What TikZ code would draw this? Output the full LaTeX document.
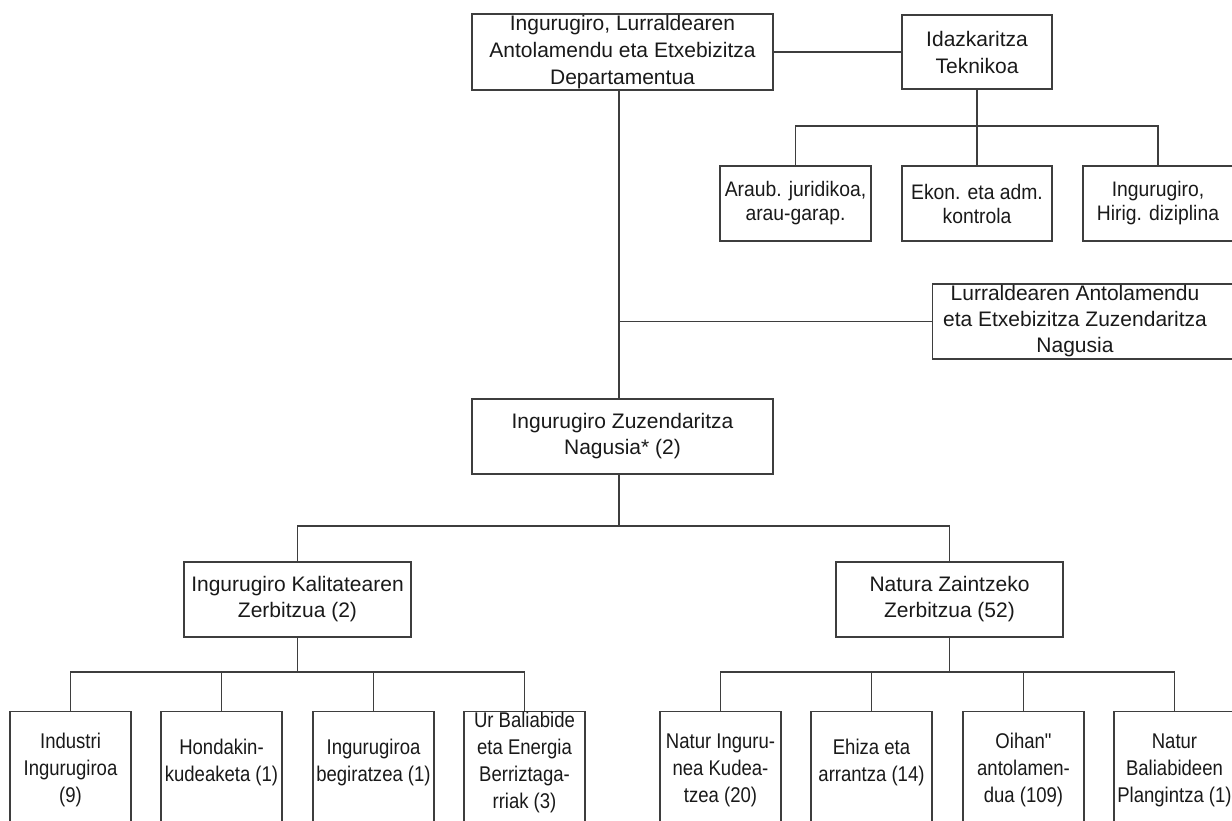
\documentclass[tikz,border=0pt]{standalone}
\usepackage{fontspec}
\setmainfont{Liberation Sans}
\newfontfamily\midfont[FakeStretch=0.92]{Liberation Sans}
\newfontfamily\smlfont[FakeStretch=0.87]{Liberation Sans}
\definecolor{lc}{RGB}{62,62,62}
\definecolor{tc}{RGB}{25,25,25}
\begin{document}
\begin{tikzpicture}[x=1pt,y=-1pt,
  box/.style={draw=lc, line width=1.2pt, inner sep=0pt, align=center, text=tc},
  big/.style={font=\fontsize{21}{27}\selectfont},
  bigb/.style={font=\fontsize{21}{26}\selectfont},
  mid/.style={font=\midfont\fontsize{21}{24}\selectfont},
  sml/.style={font=\smlfont\fontsize{21.3}{27}\selectfont},
  txt/.style={inner sep=0pt, align=center, text=tc},
  conn/.style={draw=lc, line width=1.2pt},
  bbox/.style={box, minimum width=121, minimum height=130, anchor=north}]
\useasboundingbox (0,0) rectangle (1232,821);
\clip (0,0) rectangle (1232,821);

% top level
\node[box,big,minimum width=301,minimum height=76] (top) at (622.5,52) {Ingurugiro, Lurraldearen\\Antolamendu eta Etxebizitza\\Departamentua};
\node[box,big,minimum width=150,minimum height=74] (idaz) at (977,52) {Idazkaritza\\Teknikoa};

% second row right
\node[box,mid,minimum width=151,minimum height=75] (araub) at (795.5,203.5) {Araub. juridikoa,\\arau-garap.};
\node[box,mid,minimum width=150,minimum height=75] (ekon) at (977,203.5) {Ekon. eta adm.\\kontrola};
\node[box,mid,minimum width=150,minimum height=75] (ingh) at (1158,203.5) {Ingurugiro,\\Hirig. diziplina};

% Lurraldearen
\node[box,minimum width=310,minimum height=75,anchor=west] (lur) at (932,321.5) {};
\node[txt,bigb] (lurt) at (1075,321.5) {Lurraldearen Antolamendu\\eta Etxebizitza Zuzendaritza\\Nagusia};

% middle
\node[box,bigb,minimum width=301,minimum height=75] (zuz) at (622.5,436.5) {Ingurugiro Zuzendaritza\\Nagusia* (2)};
\node[box,bigb,minimum width=227,minimum height=75] (kal) at (297.5,599.5) {Ingurugiro Kalitatearen\\Zerbitzua (2)};
\node[box,bigb,minimum width=227,minimum height=75] (nat) at (949.5,599.5) {Natura Zaintzeko\\Zerbitzua (52)};

% bottom boxes
\node[bbox] (b1) at (70.5,711) {};
\node[bbox] (b2) at (221.5,711) {};
\node[bbox] (b3) at (373.5,711) {};
\node[bbox] (b4) at (524.5,711) {};
\node[bbox] (b5) at (720.5,711) {};
\node[bbox] (b6) at (871.5,711) {};
\node[bbox] (b7) at (1023.5,711) {};
\node[bbox] (b8) at (1174.5,711) {};

\node[txt,sml] (t1) at (70.5,770) {Industri\\Ingurugiroa\\(9)};
\node[txt,sml] (t2) at (221.5,762) {Hondakin-\\kudeaketa (1)};
\node[txt,sml] (t3) at (373.5,762) {Ingurugiroa\\begiratzea (1)};
\node[txt,sml] (t4) at (524.5,762) {Ur Baliabide\\eta Energia\\Berriztaga-\\rriak (3)};
\node[txt,sml] (t5) at (720.5,770) {Natur Inguru-\\nea Kudea-\\tzea (20)};
\node[txt,sml] (t6) at (871.5,762) {Ehiza eta\\arrantza (14)};
\node[txt,sml] (t7) at (1023.5,770) {Oihan"\\antolamen-\\dua (109)};
\node[txt,sml] (t8) at (1174.5,770) {Natur\\Baliabideen\\Plangintza (1)};

% connectors
\coordinate (sp) at (619,0);
\coordinate (bar1) at (0,126);
\coordinate (bar2) at (0,526);
\coordinate (bar3) at (0,672);

\draw[conn] (top.east) -- (idaz.west);
\draw[conn] (top.south -| sp) -- (zuz.north -| sp);
\draw[conn] (sp |- lur.west) -- (lur.west);
\draw[conn] (idaz.south) -- (ekon.north);
\draw[conn] (araub.north) -- (araub.north |- bar1) -- (ingh.north |- bar1) -- (ingh.north);

\draw[conn] (zuz.south -| sp) -- (sp |- bar2);
\draw[conn] (kal.north) -- (kal.north |- bar2) -- (nat.north |- bar2) -- (nat.north);

\draw[conn] (kal.south) -- (kal.south |- bar3);
\draw[conn] (b1.north) -- (b1.north |- bar3) -- (b4.north |- bar3) -- (b4.north);
\draw[conn] (b2.north) -- (b2.north |- bar3);
\draw[conn] (b3.north) -- (b3.north |- bar3);

\draw[conn] (nat.south) -- (nat.south |- bar3);
\draw[conn] (b5.north) -- (b5.north |- bar3) -- (b8.north |- bar3) -- (b8.north);
\draw[conn] (b6.north) -- (b6.north |- bar3);
\draw[conn] (b7.north) -- (b7.north |- bar3);
\end{tikzpicture}
\end{document}
